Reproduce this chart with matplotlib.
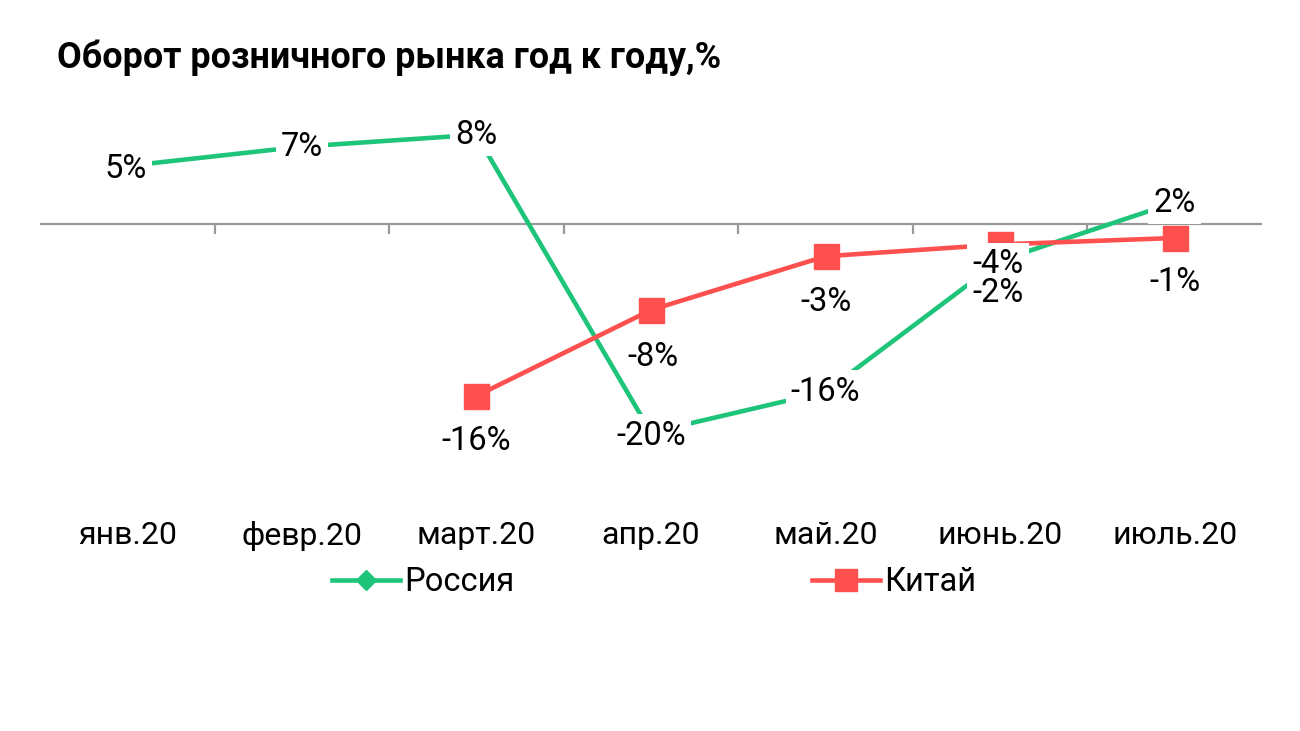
import matplotlib
matplotlib.use("Agg")
import matplotlib.pyplot as plt
import numpy as np
from matplotlib.lines import Line2D

plt.rcParams['font.family'] = ['Roboto', 'DejaVu Sans']

# ---- data ----
categories = ["янв.20", "февр.20", "март.20", "апр.20", "май.20", "июнь.20", "июль.20"]
russia = [5.4, 7.2, 8.3, -19.4, -15.6, -3.4, 2.0]
china = [np.nan, np.nan, -16.0, -8.0, -3.0, -1.9, -1.3]
russia_labels = ["5%", "7%", "8%", "-20%", "-16%", "-2%", "2%"]
china_labels = ["", "", "-16%", "-8%", "-3%", "-4%", "-1%"]
title = "Оборот розничного рынка год к году,%"
series_names = ["Россия", "Китай"]

# ---- style ----
GREEN = "#1DC47A"
RED = "#FF5050"
AXIS = "#999999"
PX = 72 / 100  # points per pixel at dpi 100
LFS = 23.5

# label offsets in pixels (dx, dy)
russia_off = [(-2, -3), (0, 0), (0, 0), (0, -3), (0, 0), (-2, -32), (0, 0)]
china_off = [(0, 0), (0, 0), (0, -45), (2, -47), (0, -46), (-2, -20), (0, -44)]

fig = plt.figure(figsize=(13, 7.31), dpi=100)
ax = fig.add_axes([40 / 1300, (731 - 492.75) / 731, 1222 / 1300, 376.25 / 731])
x = np.arange(len(categories))

ax.plot(x, russia, color=GREEN, lw=3.3, marker='D', ms=9, zorder=2, solid_capstyle='butt')
ax.plot(x, china, color=RED, lw=3.3, marker='s', ms=18, zorder=2.1, solid_capstyle='butt')

ax.set_xlim(-0.5, len(categories) - 0.5)
ax.set_ylim(-25, 10)

for s in ax.spines.values():
    s.set_visible(False)
ax.set_yticks([])
ax.set_xticks(x)
ax.set_xticklabels(categories, fontsize=23)
ax.tick_params(axis='x', length=0, pad=20, colors='black')

# zero axis with category separators
ax.axhline(0, color=AXIS, lw=1.6, zorder=1)
ax.vlines(x[:-1] + 0.5, -0.9, 0, color=AXIS, lw=1.6, zorder=1)

bbox = dict(boxstyle='square,pad=0.16', fc='white', ec='none')
items = []
for xi, v, lab, off in zip(x, russia, russia_labels, russia_off):
    items.append((xi, v, lab, off))
for xi, v, lab, off in zip(x, china, china_labels, china_off):
    if lab:
        items.append((xi, v, lab, off))

# white backgrounds first, then all texts on top
for xi, v, lab, (dx, dy) in items:
    ax.annotate(lab, (xi, v), xytext=(dx * PX, dy * PX), textcoords='offset points',
                ha='center', va='center', fontsize=LFS, color='none', bbox=bbox, zorder=4)
for xi, v, lab, (dx, dy) in items:
    ax.annotate(lab, (xi, v), xytext=(dx * PX, dy * PX), textcoords='offset points',
                ha='center', va='center', fontsize=LFS, color='black', zorder=5)

fig.text(57 / 1300, 1 - 58 / 731, title, fontsize=25.8, fontweight='bold',
         ha='left', va='center')

handles = [Line2D([], [], color=GREEN, lw=3.3, marker='D', ms=10),
           Line2D([], [], color=RED, lw=3.3, marker='s', ms=16)]
fig.legend(handles, series_names, loc='center', bbox_to_anchor=(0.503, 1 - 582 / 731),
           ncol=2, frameon=False, fontsize=23.5, handlelength=2.1, handletextpad=0.12,
           columnspacing=9.1)

fig.savefig("out.png", dpi=100, facecolor='white')
